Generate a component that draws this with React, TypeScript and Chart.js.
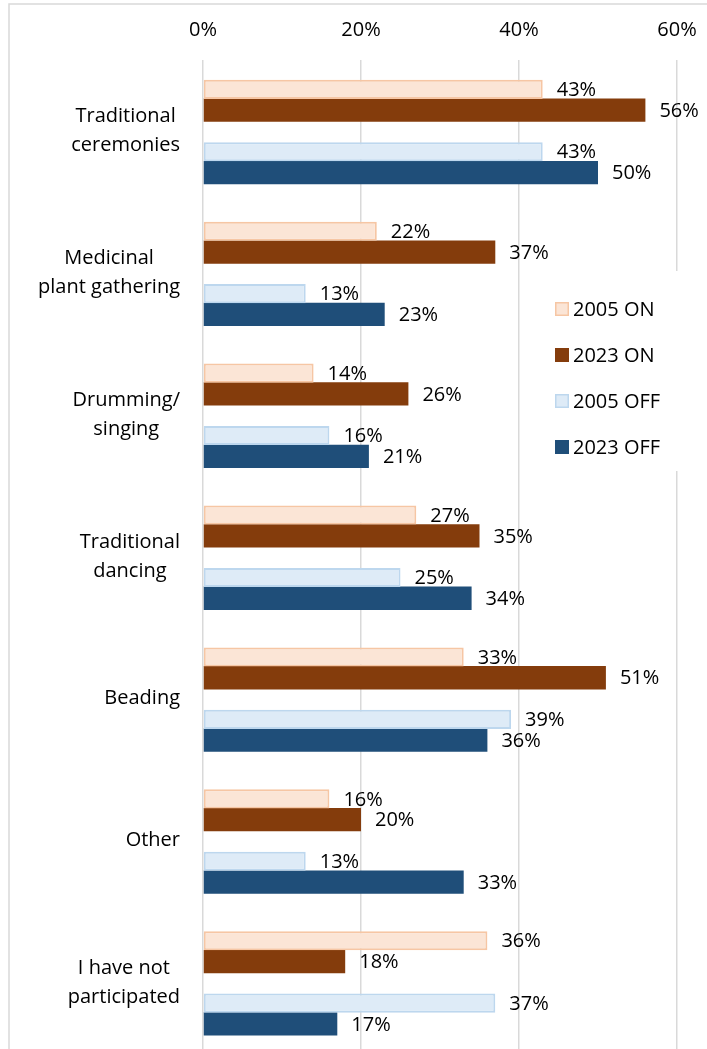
import React, { useEffect, useRef } from "react";
import { Chart, registerables } from "chart.js";

Chart.register(...registerables);

// ---- data ----
const categories: string[][] = [
  ["Traditional", "ceremonies"],
  ["Medicinal", "plant gathering"],
  ["Drumming/", "singing"],
  ["Traditional", "dancing"],
  ["Beading"],
  ["Other"],
  ["I have not", "participated"],
];
const seriesNames = ["2005 ON", "2023 ON", "2005 OFF", "2023 OFF"];
const on2005 = [43, 22, 14, 27, 33, 16, 36];
const on2023 = [56, 37, 26, 35, 51, 20, 18];
const off2005 = [43, 13, 16, 25, 39, 13, 37];
const off2023 = [50, 23, 21, 34, 36, 33, 17];
const xTickValues = [0, 20, 40, 60];

const FONT = "'Open Sans', 'Noto Sans', sans-serif";
const FONT_SIZE = 20;
const TEXT = "#000000";
const GRID = "#d9d9d9";

const fills = ["#fbe5d6", "#843c0c", "#deebf7", "#1f4e79"];
const borders = ["#f6c6a4", "#843c0c", "#bdd7ee", "#1f4e79"];

const borderPlugin = {
  id: "outerBorder",
  beforeDraw(chart: any) {
    const ctx = chart.ctx;
    ctx.save();
    ctx.strokeStyle = GRID;
    ctx.lineWidth = 1.5;
    ctx.strokeRect(9, 4, 900, 1200);
    ctx.restore();
  },
};

const categoryLabelPlugin = {
  id: "catLabels",
  afterDraw(chart: any) {
    const ctx = chart.ctx;
    const yScale = chart.scales.y;
    const rightEdge = 180;
    const lineH = 29;
    ctx.save();
    ctx.font = `${FONT_SIZE}px ${FONT}`;
    ctx.fillStyle = TEXT;
    ctx.textAlign = "center";
    ctx.textBaseline = "middle";
    categories.forEach((lines, i) => {
      const cy = yScale.getPixelForValue(i);
      const maxW = Math.max(...lines.map((l) => ctx.measureText(l).width));
      const cx = rightEdge - maxW / 2;
      const startY = cy - ((lines.length - 1) * lineH) / 2;
      lines.forEach((l, j) => ctx.fillText(l, cx, startY + j * lineH));
    });
    ctx.restore();
  },
};

const dataLabelPlugin = {
  id: "dataLabels",
  afterDatasetsDraw(chart: any) {
    const ctx = chart.ctx;
    ctx.save();
    ctx.font = `${FONT_SIZE}px ${FONT}`;
    ctx.fillStyle = TEXT;
    ctx.textAlign = "left";
    ctx.textBaseline = "middle";
    chart.data.datasets.forEach((ds: any, di: number) => {
      if (ds.isSpacer) return;
      const meta = chart.getDatasetMeta(di);
      meta.data.forEach((el: any, i: number) => {
        const v = ds.data[i];
        if (v == null) return;
        ctx.fillText(`${v}%`, el.x + 14, el.y + 1);
      });
    });
    ctx.restore();
  },
};

const legendPlugin = {
  id: "boxLegend",
  afterDraw(chart: any) {
    const ctx = chart.ctx;
    ctx.save();
    ctx.fillStyle = "#ffffff";
    ctx.fillRect(545, 271, 158, 200);
    ctx.font = `${FONT_SIZE}px ${FONT}`;
    ctx.textAlign = "left";
    ctx.textBaseline = "middle";
    seriesNames.forEach((name, k) => {
      const cy = 309 + k * 46;
      ctx.fillStyle = fills[k];
      ctx.fillRect(555, cy - 7, 14, 14);
      ctx.strokeStyle = borders[k];
      ctx.lineWidth = 1.5;
      ctx.strokeRect(555.75, cy - 6.25, 12.5, 12.5);
      ctx.fillStyle = TEXT;
      ctx.fillText(name, 573, cy + 1);
    });
    ctx.restore();
  },
};

export default function App() {
  const canvasRef = useRef<HTMLCanvasElement | null>(null);

  useEffect(() => {
    if (!canvasRef.current) return;
    const seriesData = [on2005, on2023, off2005, off2023];
    const mk = (k: number) => ({
      label: seriesNames[k],
      data: seriesData[k],
      backgroundColor: fills[k],
      borderColor: borders[k],
      borderWidth: k % 2 === 0 ? 2 : 0,
      borderSkipped: false,
      barPercentage: k % 2 === 0 ? 0.92 : 1.12,
      categoryPercentage: 0.733,
    });
    const spacer = {
      label: "",
      isSpacer: true,
      data: categories.map(() => null),
      backgroundColor: "rgba(0,0,0,0)",
      barPercentage: 1,
      categoryPercentage: 0.733,
    };
    const chart = new Chart(canvasRef.current, {
      type: "bar",
      data: {
        labels: categories.map((c) => c.join(" ")),
        datasets: [mk(0), mk(1), spacer as any, mk(2), mk(3)],
      },
      options: {
        indexAxis: "y",
        responsive: false,
        animation: false,
        maintainAspectRatio: false,
        layout: { padding: { left: 203, right: 30, top: 10, bottom: 6.7 } },
        plugins: {
          legend: { display: false },
          tooltip: { enabled: false },
        },
        scales: {
          x: {
            type: "linear",
            position: "top",
            min: 0,
            max: 60,
            afterBuildTicks: (scale: any) => {
              scale.ticks = xTickValues.map((v) => ({ value: v }));
            },
            afterFit: (scale: any) => {
              scale.height = 50;
              scale.paddingLeft = 0;
              scale.paddingRight = 0;
            },
            ticks: {
              callback: (v: any) => `${v}%`,
              font: { family: FONT, size: FONT_SIZE },
              color: TEXT,
              padding: 18,
            },
            grid: { color: GRID, lineWidth: 1.5, drawTicks: false },
            border: { display: false },
          },
          y: {
            type: "category",
            display: false,
          },
        },
      } as any,
      plugins: [borderPlugin, categoryLabelPlugin, dataLabelPlugin, legendPlugin],
    });
    return () => chart.destroy();
  }, []);

  return (
    <div
      style={{
        position: "fixed",
        left: 0,
        top: 0,
        width: 707,
        height: 1049,
        overflow: "hidden",
        background: "#ffffff",
      }}
    >
      <canvas
        ref={canvasRef}
        width={707}
        height={1060}
        style={{ width: 707, height: 1060, display: "block" }}
      />
    </div>
  );
}
